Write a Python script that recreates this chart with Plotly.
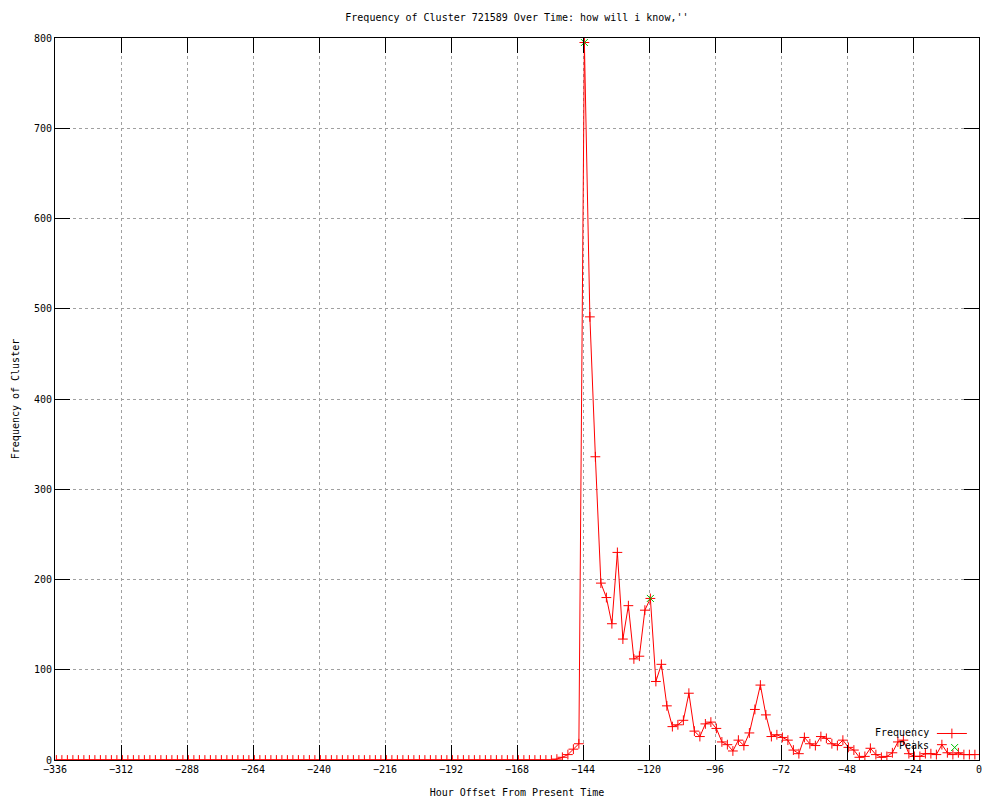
import plotly.graph_objects as go

# hour offsets of the samples (every 2 hours, half-hour shifted)
hours = [h + 0.5 for h in range(-336, 0, 2)]

# frequency per 2-hour bucket
freq = [
    0, 0, 0, 0, 0, 0, 0, 0, 0, 0, 0, 0, 0, 0, 0, 0, 0, 0, 0, 0,
    0, 0, 0, 0, 0, 0, 0, 0, 0, 0, 0, 0, 0, 0, 0, 0, 0, 0, 0, 0,
    0, 0, 0, 0, 0, 0, 0, 0, 0, 0, 0, 0, 0, 0, 0, 0, 0, 0, 0, 0,
    0, 0, 0, 0, 0, 0, 0, 0, 0, 0, 0, 0, 0, 0, 0, 0, 0, 0, 0, 0,
    0, 0, 0, 0, 0, 0, 0, 0, 0, 0, 0,
    1, 3, 6, 12, 18,
    795, 491, 336, 196, 180, 151, 230, 134, 171, 112,
    115, 166, 179, 87, 106, 60, 37, 39, 44, 74,
    32, 26, 40, 42, 35, 20, 17, 10, 22, 16,
    30, 56, 83, 50, 26,
    28, 25, 22, 11, 7, 25, 18, 16, 26, 24, 18, 16, 22, 14,
    11, 3, 4, 13, 6, 3, 4, 8, 20, 22, 7, 4, 4, 7, 7, 6, 17, 8, 6, 8, 6, 6, 6,
]

peak_hours = [-143.5, -119.5]
peak_vals = [795, 179]

x_ticks = list(range(-336, 1, 24))
y_ticks = list(range(0, 801, 100))

FONT = "DejaVu Sans Mono"

fig = go.Figure()
fig.add_trace(go.Scatter(
    x=hours, y=freq, mode="lines+markers", name="", legend="legend",
    line=dict(color="#ff0000", width=1),
    marker=dict(symbol="cross-thin", size=7, line=dict(color="#ff0000", width=1)),
))
fig.add_trace(go.Scatter(
    x=peak_hours, y=peak_vals, mode="markers", name="", legend="legend2",
    marker=dict(symbol="x-thin", size=7, line=dict(color="#00c000", width=1)),
))

axis_common = dict(
    showline=True, linecolor="black", linewidth=1, mirror="ticks",
    ticks="inside", ticklen=15, tickcolor="black", tickwidth=1,
    showgrid=True, gridcolor="#a0a0a0", griddash="dot", gridwidth=1,
    zeroline=False, automargin=False,
    tickfont=dict(family=FONT, size=10, color="black"),
)

legend_common = dict(xanchor="left", yanchor="top", bgcolor="rgba(0,0,0,0)",
                     font=dict(family=FONT, size=10), itemwidth=30)

# page body has an 8px margin, so the figure is 992x792
fig.update_layout(
    width=992, height=792,
    margin=dict(l=47, r=21, t=30, b=40),
    paper_bgcolor="white", plot_bgcolor="white",
    font=dict(family=FONT, size=10, color="black"),
    title=dict(text="Frequency of Cluster 721589 Over Time: how will i know,''",
               x=0.513, xanchor="center", y=0.9874, yanchor="middle",
               font=dict(family=FONT, size=10, color="black")),
    xaxis=dict(axis_common, range=[-336, 0], tickvals=x_ticks,
               title=dict(text="Hour Offset From Present Time", standoff=14,
                          font=dict(family=FONT, size=10))),
    yaxis=dict(axis_common, range=[0, 800], tickvals=y_ticks,
               title=dict(text="Frequency of Cluster", standoff=12,
                          font=dict(family=FONT, size=10))),
    legend=dict(legend_common, x=0.949, y=0.0568),
    legend2=dict(legend_common, x=0.952, y=0.0374),
    showlegend=True,
)

fig.add_annotation(text="Frequency", xref="paper", yref="paper", x=0.948, y=0.0378,
                   xanchor="right", yanchor="middle", showarrow=False,
                   font=dict(family=FONT, size=10, color="black"))
fig.add_annotation(text="Peaks", xref="paper", yref="paper", x=0.948, y=0.0194,
                   xanchor="right", yanchor="middle", showarrow=False,
                   font=dict(family=FONT, size=10, color="black"))

fig.write_html("out.html")
